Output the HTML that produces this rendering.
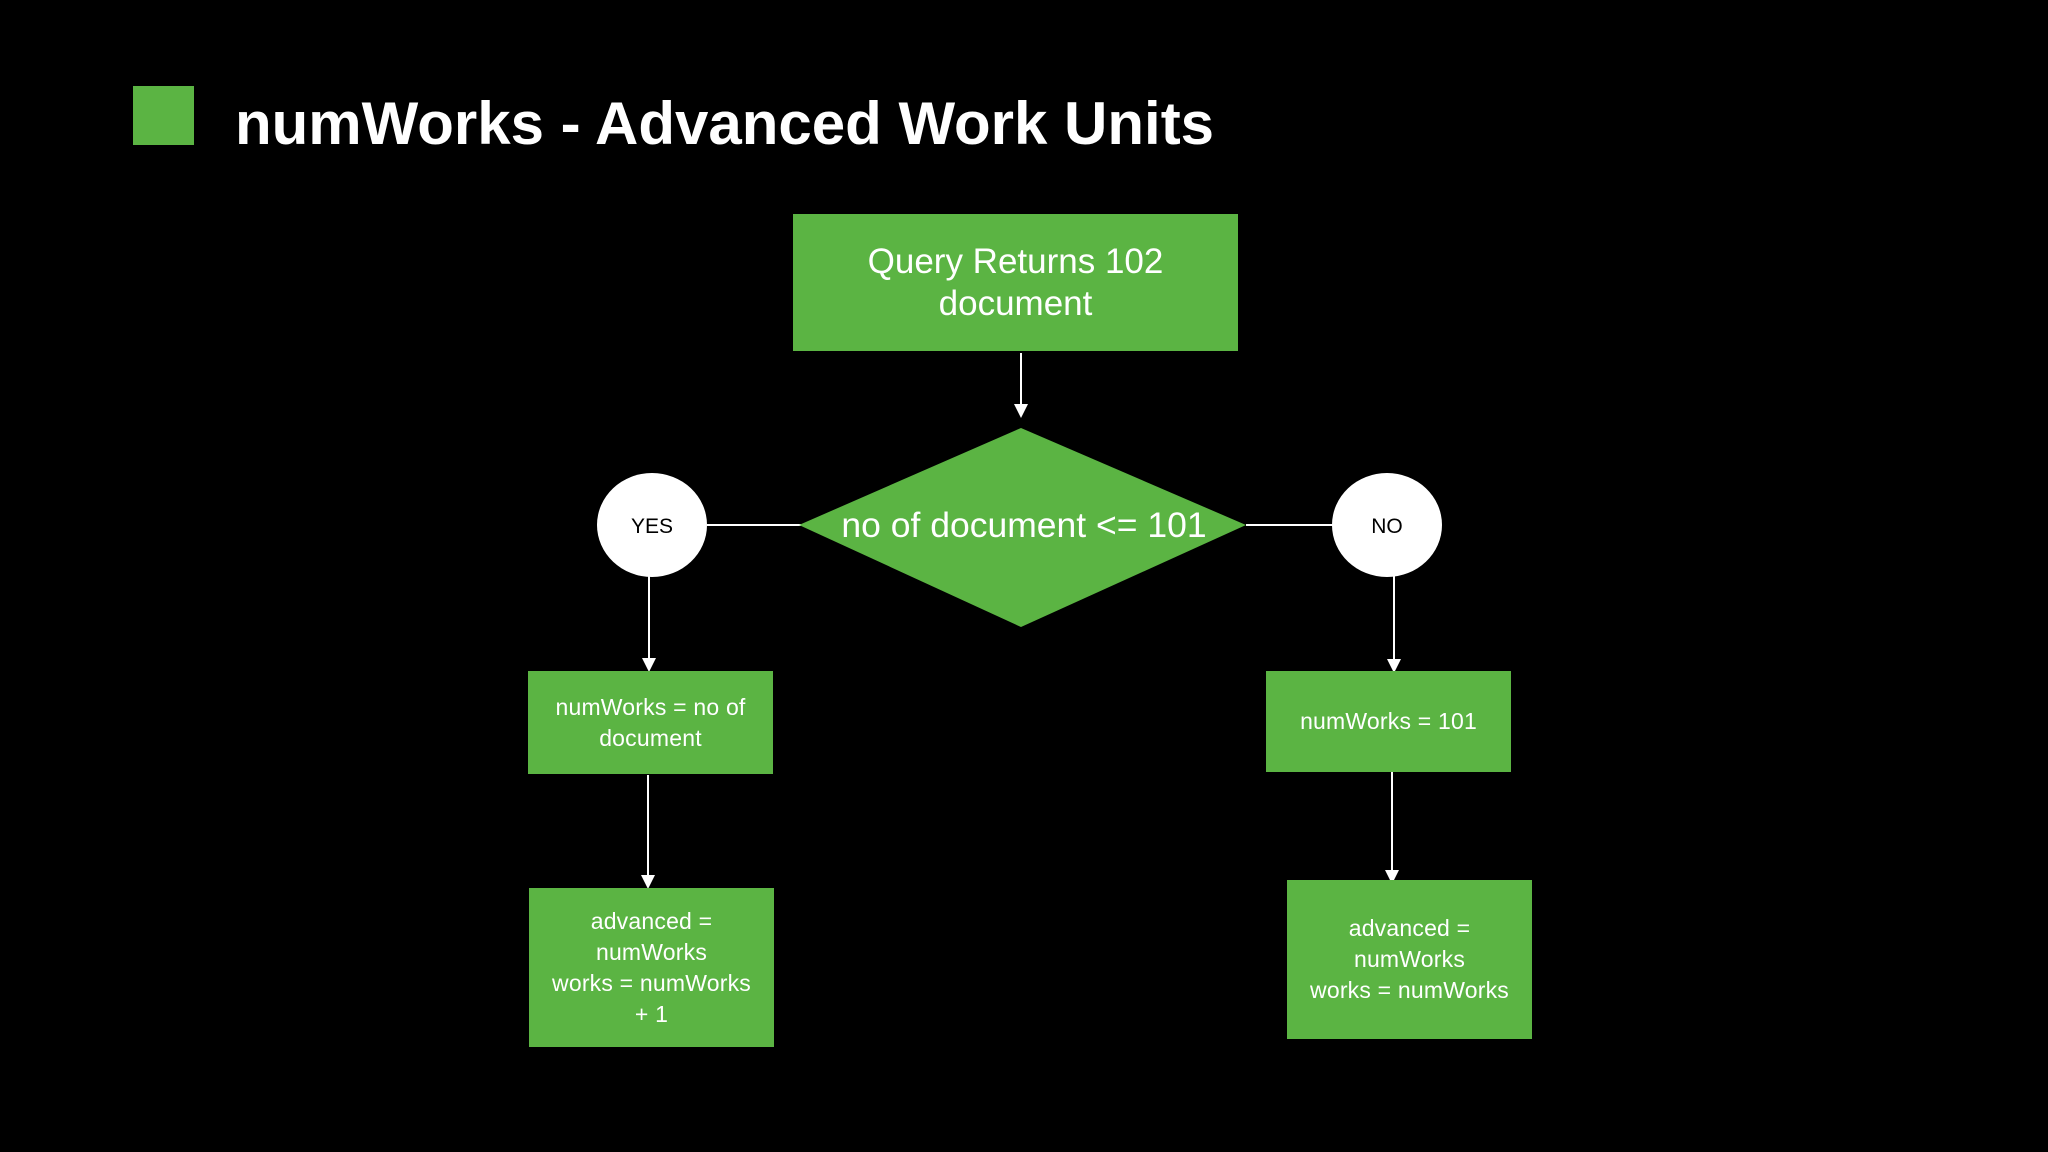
<!DOCTYPE html>
<html><head><meta charset="utf-8"><style>
html,body{margin:0;padding:0;background:#000;}
body{width:2048px;height:1152px;position:relative;overflow:hidden;font-family:"Liberation Sans",sans-serif;}
.box{position:absolute;background:#5bb443;color:#fff;display:flex;align-items:center;justify-content:center;text-align:center;}
.sm{font-size:23px;line-height:31px;letter-spacing:0.2px;}
</style></head><body>
<div style="position:absolute;left:133px;top:86px;width:61px;height:59px;background:#5bb443"></div>
<div style="position:absolute;left:235px;top:84px;font-size:60px;font-weight:bold;color:#fff;line-height:80px;white-space:nowrap">numWorks - Advanced Work Units</div>
<div class="box" style="left:793px;top:214px;width:445px;height:137px;font-size:35px;line-height:42px">Query Returns 102<br>document</div>
<svg width="2048" height="1152" style="position:absolute;left:0;top:0">
<g stroke="#fff" stroke-width="2">
<line x1="1021" y1="353" x2="1021" y2="405"/>
<line x1="649" y1="575" x2="649" y2="660"/>
<line x1="648" y1="775" x2="648" y2="878"/>
<line x1="1394" y1="575" x2="1394" y2="661"/>
<line x1="1392" y1="771" x2="1392" y2="873"/>
<line x1="707" y1="525" x2="802" y2="525"/>
<line x1="1246" y1="525" x2="1334" y2="525"/>
</g>
<g fill="#fff">
<path d="M1014,404 L1028,404 L1021,418 z"/>
<path d="M642,658 L656,658 L649,672 z"/>
<path d="M641,875 L655,875 L648,889 z"/>
<path d="M1387,659 L1401,659 L1394,673 z"/>
<path d="M1385,870 L1399,870 L1392,884 z"/>
</g>
<polygon points="799,525 1021,428 1246,525 1021,627" fill="#5bb443"/>
<text x="1024" y="537" fill="#fff" font-family="Liberation Sans, sans-serif" font-size="35.5" text-anchor="middle">no of document &lt;= 101</text>
<ellipse cx="652" cy="525" rx="55" ry="52" fill="#fff"/>
<ellipse cx="1387" cy="525" rx="55" ry="52" fill="#fff"/>
<text x="652" y="533" fill="#000" font-family="Liberation Sans, sans-serif" font-size="21" text-anchor="middle">YES</text>
<text x="1387" y="533" fill="#000" font-family="Liberation Sans, sans-serif" font-size="21" text-anchor="middle">NO</text>
</svg>
<div class="box sm" style="left:528px;top:671px;width:245px;height:103px">numWorks = no of<br>document</div>
<div class="box sm" style="left:529px;top:888px;width:245px;height:159px">advanced =<br>numWorks<br>works = numWorks<br>+ 1</div>
<div class="box sm" style="left:1266px;top:671px;width:245px;height:101px">numWorks = 101</div>
<div class="box sm" style="left:1287px;top:880px;width:245px;height:159px">advanced =<br>numWorks<br>works = numWorks</div>
</body></html>
